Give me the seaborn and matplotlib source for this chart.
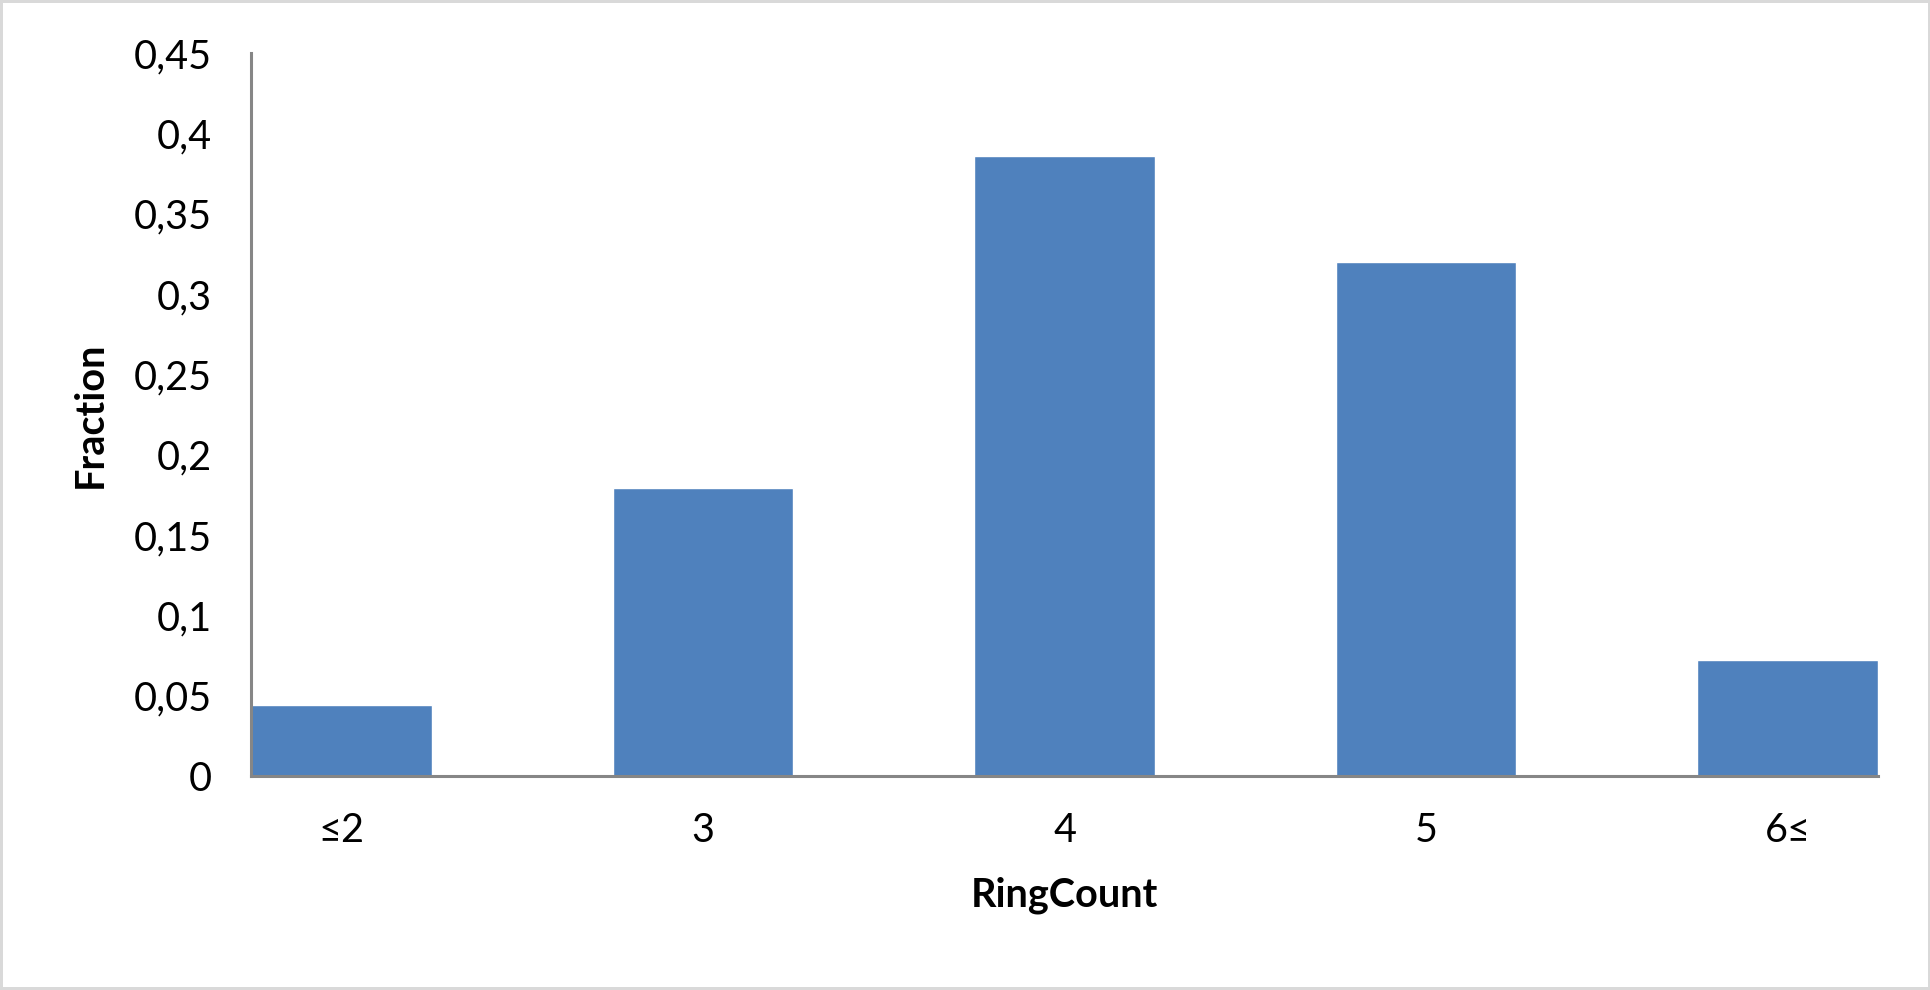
import matplotlib
matplotlib.use("Agg")
import matplotlib.pyplot as plt
import seaborn as sns
import pandas as pd

# ring count categories and fraction of molecules in each
ring_counts = ["≤2", "3", "4", "5", "6≤"]
fractions = [0.044, 0.179, 0.386, 0.320, 0.072]
y_ticks = [0, 0.05, 0.1, 0.15, 0.2, 0.25, 0.3, 0.35, 0.4, 0.45]
y_tick_labels = ["0", "0,05", "0,1", "0,15", "0,2", "0,25", "0,3", "0,35", "0,4", "0,45"]

sns.set_style("white")
plt.rcParams["font.family"] = ["Lato", "DejaVu Sans"]
plt.rcParams["text.color"] = "black"
plt.rcParams["axes.labelcolor"] = "black"
plt.rcParams["xtick.color"] = "black"
plt.rcParams["ytick.color"] = "black"

df = pd.DataFrame({"RingCount": ring_counts, "Fraction": fractions})

fig = plt.figure(figsize=(19.31, 9.9), dpi=100, facecolor="white",
                 edgecolor="#d9d9d9", linewidth=4)
ax = fig.add_axes([251 / 1931, 1 - 776 / 990, (1878 - 251) / 1931, (776 - 53) / 990])

sns.barplot(data=df, x="RingCount", y="Fraction", color="#4f81bd",
            width=0.5, saturation=1, ax=ax)

ax.set_xlim(-0.25, 4.25)
ax.set_ylim(0, 0.45)
ax.set_yticks(y_ticks)
ax.set_yticklabels(y_tick_labels, fontsize=28.5)
ax.tick_params(axis="x", labelsize=28.5, pad=26, length=0)
ax.tick_params(axis="y", pad=28, length=0)

for side in ["top", "right"]:
    ax.spines[side].set_visible(False)
for side in ["left", "bottom"]:
    ax.spines[side].set_color("#868686")
    ax.spines[side].set_linewidth(2.2)

ax.set_xlabel("RingCount", fontsize=28.5, fontweight="bold", labelpad=20)
ax.set_ylabel("Fraction", fontsize=28.5, fontweight="bold", labelpad=18)

fig.savefig("out.png", dpi=100, facecolor="white", edgecolor=fig.get_edgecolor())
